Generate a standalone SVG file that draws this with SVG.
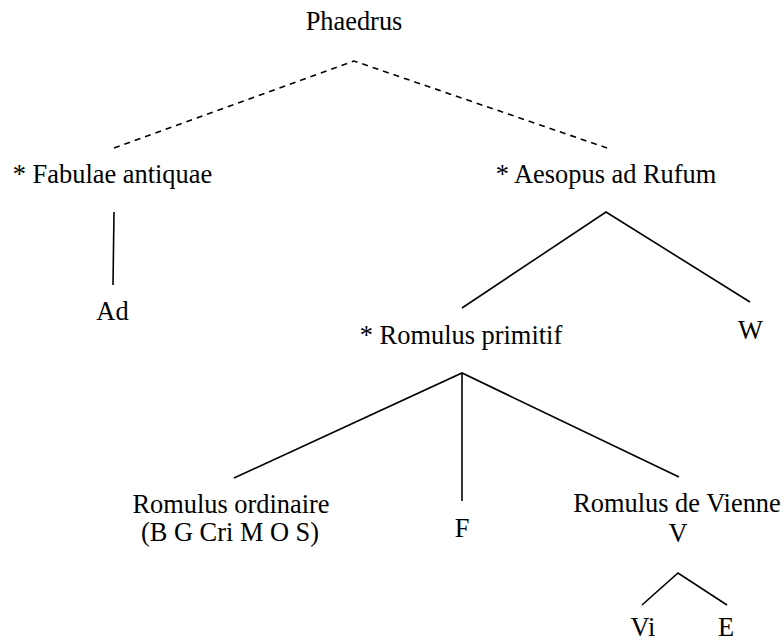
<svg xmlns="http://www.w3.org/2000/svg" width="784" height="641" viewBox="0 0 784 641">
<style>
text{font-family:'Liberation Serif','Times New Roman','DejaVu Serif',serif;font-size:26.4px;fill:#000;text-anchor:middle}
.e{stroke:#000;stroke-width:1.6;fill:none}
.d{stroke-dasharray:6 5}
</style>
<rect width="784" height="641" fill="#fff"/>
<g id="connectors">
<path class="e d" d="M114,148 L354,61 L607,148"/>
<path class="e" d="M114,212 L113,285"/>
<path class="e" d="M462,308 L606,212 L750,302"/>
<path class="e" d="M234,478 L462,373 L679,477"/>
<path class="e" d="M462,373 L462,501"/>
<path class="e" d="M642,605 L678,573 L727,605"/>
</g>
<g id="phaedrus"><text x="354" y="30">Phaedrus</text></g>
<g id="fabulae"><text x="112.5" y="183">* Fabulae antiquae</text></g>
<g id="aesopus"><text x="606" y="183">* Aesopus ad Rufum</text></g>
<g id="ad"><text x="112.5" y="320">Ad</text></g>
<g id="romulus-primitif"><text x="461" y="344">* Romulus primitif</text></g>
<g id="w"><text x="750.5" y="339">W</text></g>
<g id="romulus-ordinaire"><text x="231" y="513">Romulus ordinaire</text><text x="230" y="541">(B G Cri M O S)</text></g>
<g id="f"><text x="462" y="537">F</text></g>
<g id="romulus-vienne"><text x="677" y="512">Romulus de Vienne</text><text x="678" y="542">V</text></g>
<g id="vi"><text x="643" y="636">Vi</text></g>
<g id="e"><text x="726" y="636">E</text></g>
</svg>
